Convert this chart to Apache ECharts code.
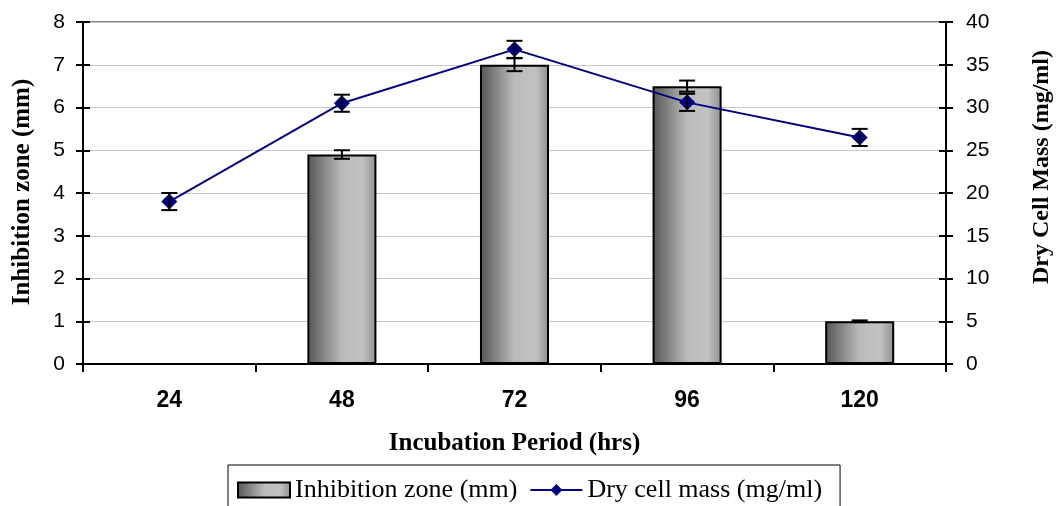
<!DOCTYPE html>
<html>
<head>
<meta charset="utf-8">
<script src="https://cdn.jsdelivr.net/npm/echarts@6/dist/echarts.min.js"></script>
<style>
html,body{margin:0;padding:0;background:#fff;}
#c{width:1058px;height:506px;}
</style>
</head>
<body>
<div id="c"></div>
<script>
var categories = ['24', '48', '72', '96', '120'];
var inhibition = [0, 4.9, 7.0, 6.5, 1.0];
var inhibitionErr = [0, 0.1, 0.15, 0.13, 0.02];
var dryMass = [19.0, 30.5, 36.8, 30.6, 26.5];
var dryMassErr = [1.0, 1.0, 1.0, 1.0, 1.0];
var leftTicks = {min: 0, max: 8, interval: 1};
var rightTicks = {min: 0, max: 40, interval: 5};
var leftTitle = 'Inhibition zone (mm)';
var rightTitle = 'Dry Cell Mass (mg/ml)';
var xTitle = 'Incubation Period (hrs)';

var chart = echarts.init(document.getElementById('c'), null, {renderer: 'canvas'});

function errData(vals, errs) {
  return vals.map(function (v, i) { return [i, v - errs[i], v + errs[i]]; });
}
function errRender(params, api) {
  var x = api.value(0);
  var lo = api.coord([x, api.value(1)]);
  var hi = api.coord([x, api.value(2)]);
  var hw = 8;
  var st = {stroke: '#000', lineWidth: 2};
  return {
    type: 'group',
    children: [
      {type: 'line', shape: {x1: lo[0], y1: lo[1], x2: hi[0], y2: hi[1]}, style: st},
      {type: 'line', shape: {x1: lo[0] - hw, y1: lo[1], x2: lo[0] + hw, y2: lo[1]}, style: st},
      {type: 'line', shape: {x1: hi[0] - hw, y1: hi[1], x2: hi[0] + hw, y2: hi[1]}, style: st}
    ]
  };
}

var tickFont = {fontFamily: 'Liberation Sans, Arial, sans-serif', fontSize: 21, color: '#000'};
var serif = 'Liberation Serif, Times New Roman, serif';
var titleFontH = {fontFamily: serif, fontSize: 25, fontWeight: 'bold', color: '#000'};

var barGrad = new echarts.graphic.LinearGradient(0, 0, 1, 0, [
  {offset: 0, color: '#555555'},
  {offset: 0.5, color: '#bbbbbb'},
  {offset: 0.8, color: '#c2c2c2'},
  {offset: 1, color: '#8f8f8f'}
]);

var option = {
  animation: false,
  grid: {left: 83, right: 112, top: 22, bottom: 142, outerBoundsMode: 'none', containLabel: false,
         show: true, borderColor: '#808080', borderWidth: 2, backgroundColor: 'transparent'},
  graphic: [
    {type: 'text', x: 23, y: 192, rotation: Math.PI / 2,
     style: {text: leftTitle, font: 'bold 25px ' + serif, fill: '#000', align: 'center', verticalAlign: 'middle'}},
    {type: 'text', x: 1042, y: 167, rotation: Math.PI / 2,
     style: {text: rightTitle, font: 'bold 24px ' + serif, fill: '#000', align: 'center', verticalAlign: 'middle'}}
  ],
  legend: {
    data: [
      {name: 'Inhibition zone (mm)', icon: 'rect'},
      {name: 'Dry cell mass (mg/ml)'}
    ],
    left: 228, top: 465,
    padding: [12, 18, 30, 9],
    borderColor: '#000', borderWidth: 1,
    itemWidth: 52, itemHeight: 15, itemGap: 12,
    textStyle: {fontFamily: serif, fontSize: 26, color: '#000', padding: [0, 0, 0, 0]}
  },
  xAxis: {
    type: 'category', data: categories,
    boundaryGap: true,
    axisLine: {lineStyle: {color: '#000', width: 2}},
    axisTick: {show: true, inside: false, length: 8, lineStyle: {color: '#000', width: 2}},
    axisLabel: Object.assign({}, tickFont, {margin: 25, fontWeight: 'bold', fontSize: 23}),
    name: xTitle, nameLocation: 'middle', nameGap: 67,
    nameTextStyle: titleFontH
  },
  yAxis: [
    Object.assign({
      type: 'value', position: 'left',
      axisLine: {show: true, lineStyle: {color: '#000', width: 2}},
      axisTick: {show: true, length: 7, lineStyle: {color: '#000', width: 2}},
      axisLabel: Object.assign({margin: 18}, tickFont),
      splitLine: {show: true, lineStyle: {color: '#c8c8c8', width: 1}}
    }, leftTicks),
    Object.assign({
      type: 'value', position: 'right',
      axisLine: {show: true, lineStyle: {color: '#000', width: 2}},
      axisTick: {show: true, length: 7, lineStyle: {color: '#000', width: 2}},
      axisLabel: Object.assign({margin: 20}, tickFont),
      splitLine: {show: false}
    }, rightTicks),
    Object.assign({
      type: 'value', position: 'left',
      axisLine: {show: false}, axisLabel: {show: false}, splitLine: {show: false},
      axisTick: {show: true, inside: true, length: 7, lineStyle: {color: '#000', width: 2}}
    }, leftTicks),
    Object.assign({
      type: 'value', position: 'right',
      axisLine: {show: false}, axisLabel: {show: false}, splitLine: {show: false},
      axisTick: {show: true, inside: true, length: 7, lineStyle: {color: '#000', width: 2}}
    }, rightTicks)
  ],
  series: [
    {
      name: 'Inhibition zone (mm)', type: 'bar', data: inhibition, yAxisIndex: 0,
      barWidth: '40%',
      itemStyle: {color: barGrad, borderColor: '#000', borderWidth: 2},
      z: 2
    },
    {
      name: 'Dry cell mass (mg/ml)', type: 'line', data: dryMass, yAxisIndex: 1,
      symbol: 'diamond', symbolSize: 16, showSymbol: true,
      lineStyle: {color: '#000080', width: 2},
      itemStyle: {color: '#000080'},
      z: 4
    },
    {
      name: 'inhErr', type: 'custom', yAxisIndex: 0,
      data: errData(inhibition, inhibitionErr), renderItem: errRender, z: 5,
      encode: {x: 0, y: [1, 2]}
    },
    {
      name: 'dryErr', type: 'custom', yAxisIndex: 1,
      data: errData(dryMass, dryMassErr), renderItem: errRender, z: 5,
      encode: {x: 0, y: [1, 2]}
    }
  ]
};
chart.setOption(option);
</script>
</body>
</html>
